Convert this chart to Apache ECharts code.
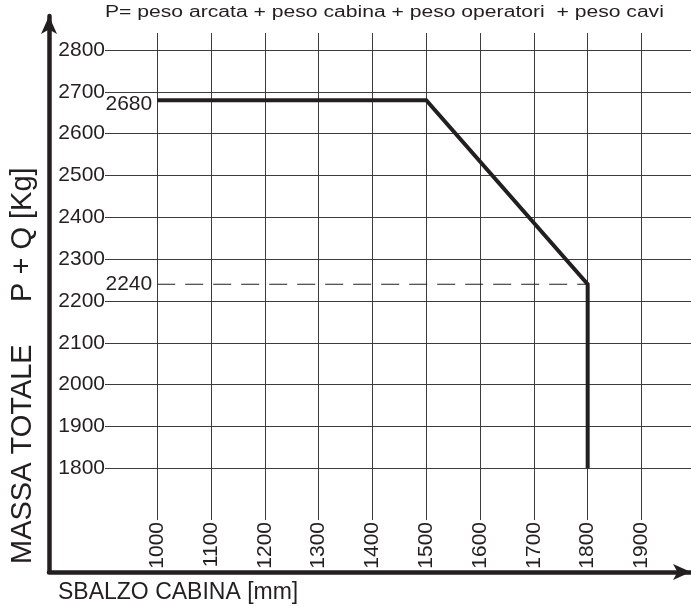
<!DOCTYPE html>
<html>
<head>
<meta charset="utf-8">
<script src="https://cdn.jsdelivr.net/npm/echarts@6/dist/echarts.min.js"></script>
<style>
  html, body { margin: 0; padding: 0; background: #fff; }
  #chart { width: 691px; height: 607px; }
</style>
</head>
<body>
<div id="chart"></div>
<script>
// Cabin overhang (mm) vs. total mass P + Q (kg)
const overhangTicks = [1000, 1100, 1200, 1300, 1400, 1500, 1600, 1700, 1800, 1900];
const massTicks = [1800, 1900, 2000, 2100, 2200, 2300, 2400, 2500, 2600, 2700, 2800];

// limit curve
const curveOverhang = [1000, 1500, 1800, 1800];
const curveMass = [2680, 2680, 2240, 1800];

// dashed reference at the 1800 mm limit
const refOverhang = [1000, 1800];
const refMass = [2240, 2240];

const titleText = 'P= peso arcata + peso cabina + peso operatori  + peso cavi';
const xName = 'SBALZO CABINA [mm]';
const yNameLeft = 'MASSA TOTALE';
const yNameRight = 'P + Q [Kg]';

const ink = '#231f20';
const FONT = 'Liberation Sans';
const plain = v => String(v);

const curveData = curveOverhang.map((x, i) => [x, curveMass[i]]);
const refData = refOverhang.map((x, i) => [x, refMass[i]]);

// value tags written just left of the 1000 mm line
const tagData = [
  { value: curveData[0], label: { offset: [0, 4] } },
  { value: refData[0], label: { offset: [0, 0] } }
];

const chart = echarts.init(document.getElementById('chart'), null, { renderer: 'canvas' });

chart.setOption({
  backgroundColor: '#fff',
  animation: false,
  textStyle: { fontFamily: FONT, color: ink },
  grid: [
    // plotting area with the reference grid
    { left: 105, right: 0, top: 33, bottom: 87 },
    // outer frame carrying the arrowed axes
    { left: 49, right: -3, top: 16, bottom: 35 }
  ],
  xAxis: [
    {
      gridIndex: 0, type: 'value', min: 903, max: 1992,
      axisLine: { show: false },
      axisTick: { show: false, customValues: overhangTicks },
      axisLabel: {
        customValues: overhangTicks, rotate: 90, margin: 2, formatter: plain,
        fontSize: 21, color: ink, fontFamily: FONT
      },
      splitLine: { show: true, lineStyle: { color: '#3c3c3c', width: 1 } }
    },
    {
      gridIndex: 1, type: 'value', min: 0, max: 1,
      axisLine: {
        show: true, onZero: false, symbol: ['none', 'arrow'], symbolSize: [12, 18],
        lineStyle: { color: ink, width: 4.5 }
      },
      axisTick: { show: false }, axisLabel: { show: false }, splitLine: { show: false }
    }
  ],
  yAxis: [
    {
      gridIndex: 0, type: 'value', min: 1676.4, max: 2840.6,
      axisLine: { show: false },
      axisTick: { show: false, customValues: massTicks },
      axisLabel: {
        customValues: massTicks, margin: 0, padding: [9, 0, 0, 0], formatter: plain,
        fontSize: 21, color: ink, fontFamily: FONT
      },
      splitLine: { show: true, lineStyle: { color: '#3c3c3c', width: 1 } }
    },
    {
      gridIndex: 1, type: 'value', min: 0, max: 1,
      axisLine: {
        show: true, onZero: false, symbol: ['none', 'arrow'], symbolSize: [12, 18],
        lineStyle: { color: ink, width: 4.5 }
      },
      axisTick: { show: false }, axisLabel: { show: false }, splitLine: { show: false }
    }
  ],
  series: [
    {
      type: 'line', xAxisIndex: 0, yAxisIndex: 0,
      data: refData, symbol: 'none', silent: true,
      lineStyle: { color: ink, width: 1.2, type: [18, 10] }
    },
    {
      type: 'line', xAxisIndex: 0, yAxisIndex: 0,
      data: curveData, symbol: 'none', silent: true,
      lineStyle: { color: ink, width: 4, join: 'miter' }
    },
    {
      type: 'scatter', xAxisIndex: 0, yAxisIndex: 0,
      data: tagData, symbolSize: 0, silent: true,
      itemStyle: { color: ink, opacity: 1 },
      label: {
        show: true, position: 'left', distance: 5,
        formatter: p => plain(p.value[1]),
        fontFamily: FONT, fontSize: 21, color: ink, opacity: 1
      }
    }
  ],
  graphic: [
    {
      type: 'text', x: 105, y: 12.5, scaleX: 1.32,
      style: { text: titleText, fill: ink, fontFamily: FONT, fontSize: 16, textAlign: 'left', textVerticalAlign: 'middle' }
    },
    {
      type: 'text', x: 58, y: 593,
      style: { text: xName, fill: ink, fontFamily: FONT, fontSize: 23, textAlign: 'left', textVerticalAlign: 'middle' }
    },
    {
      type: 'text', x: 22.5, y: 564, rotation: Math.PI / 2,
      style: { text: yNameLeft, fill: ink, fontFamily: FONT, fontSize: 29, textAlign: 'left', textVerticalAlign: 'middle' }
    },
    {
      type: 'text', x: 22.5, y: 302, rotation: Math.PI / 2,
      style: { text: yNameRight, fill: ink, fontFamily: FONT, fontSize: 29, textAlign: 'left', textVerticalAlign: 'middle' }
    }
  ]
});
</script>
</body>
</html>
